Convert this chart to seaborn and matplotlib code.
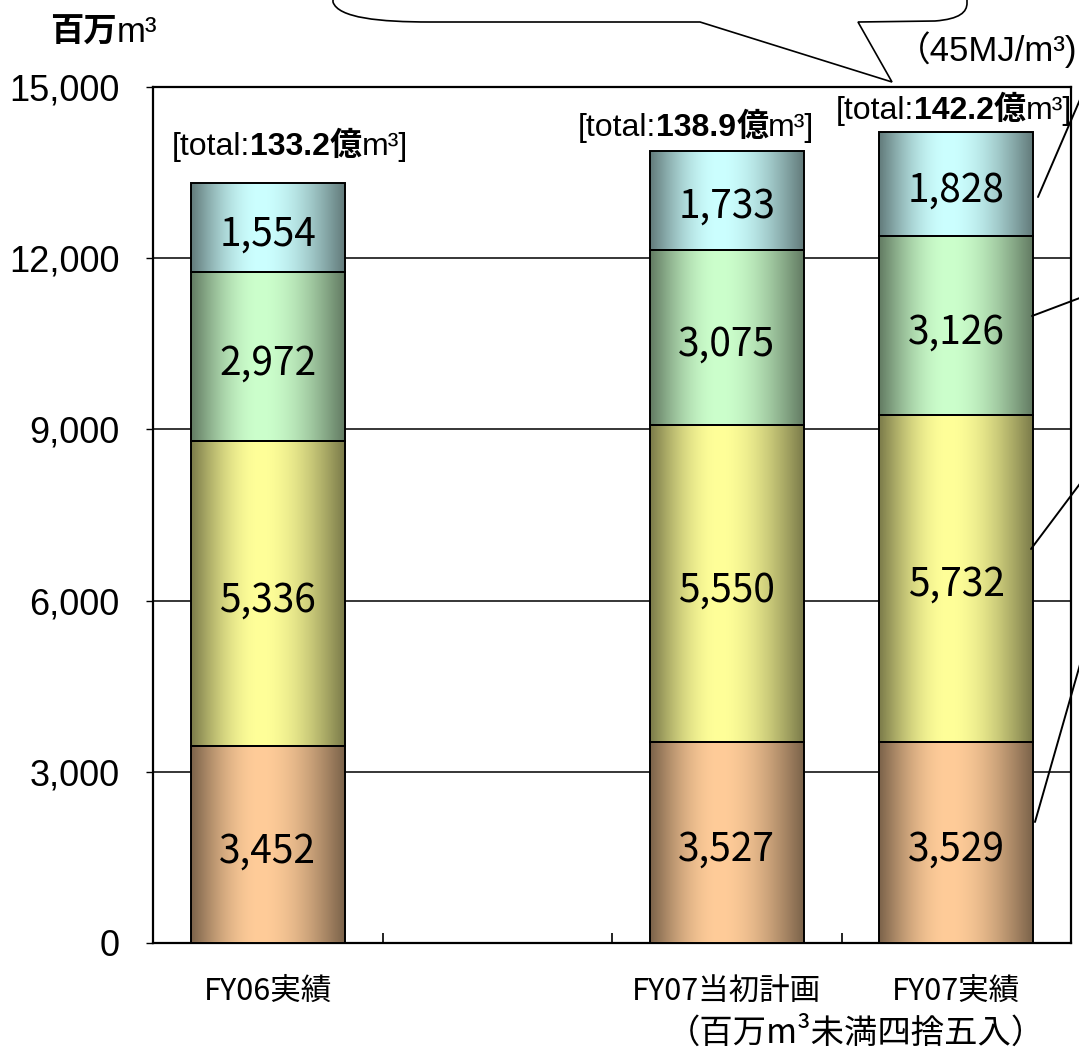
import numpy as np
import pandas as pd
import matplotlib
matplotlib.use("Agg")
import matplotlib.pyplot as plt
import seaborn as sns
from matplotlib.offsetbox import TextArea, HPacker, AnnotationBbox
from matplotlib.patches import PathPatch
from matplotlib.path import Path
from matplotlib.lines import Line2D

# ---------------- data ----------------
categories = ["FY06実績", "", "FY07当初計画", "FY07実績"]
bar_categories = ["FY06実績", "FY07当初計画", "FY07実績"]
layer1 = [3452, 3527, 3529]
layer2 = [5336, 5550, 5732]
layer3 = [2972, 3075, 3126]
layer4 = [1554, 1733, 1828]
totals_oku = ["133.2", "138.9", "142.2"]
layer_colors = ["#FFCC99", "#FFFF99", "#CCFFCC", "#CCFFFF"]
yticks = [0, 3000, 6000, 9000, 12000, 15000]
ytick_labels = ["0", "3,000", "6,000", "9,000", "12,000", "15,000"]

W, H = 1079, 1051
sns.set_theme(style="white")
plt.rcParams["font.family"] = ["Liberation Sans", "Noto Sans CJK JP", "DejaVu Sans"]
for key in ["text.color", "axes.labelcolor", "xtick.color", "ytick.color"]:
    plt.rcParams[key] = "black"
CJK = ["Noto Sans CJK JP", "Liberation Sans", "DejaVu Sans"]
LAT = ["Liberation Sans", "Noto Sans CJK JP", "DejaVu Sans"]

fig = plt.figure(figsize=(W / 100, H / 100), dpi=100)
fig.patch.set_facecolor("white")
ax = fig.add_axes([153 / W, 1 - 943 / H, (1071 - 153) / W, (943 - 87) / H])
ax.set_facecolor("white")


def fpx(x, y):
    return (x / W, 1 - y / H)


layers = [layer1, layer2, layer3, layer4]
bottom = np.zeros(len(bar_categories))
segments = []  # (patch, value, color)
for vals, col in zip(layers, layer_colors):
    df = pd.DataFrame({"cat": bar_categories, "val": vals})
    n_before = len(ax.patches)
    sns.barplot(data=df, x="cat", y="val", order=categories, color=col,
                saturation=1, width=0.67, bottom=bottom.copy(), ax=ax,
                edgecolor="black", linewidth=1.4, errorbar=None)
    new = ax.patches[n_before:]
    for p, v in zip(new, vals):
        segments.append((p, v, col))
    bottom = bottom + np.array(vals)


def gradient(col, n=256):
    rgb = np.array(matplotlib.colors.to_rgb(col))
    t = np.linspace(0, 1, n)
    peak = 0.45
    u = np.where(t < peak, t / peak, (1 - t) / (1 - peak))
    f = 0.48 + 0.52 * np.sin(u * np.pi / 2)
    img = rgb[None, None, :] * f[None, :, None]
    return np.clip(img, 0, 1)


for k, (p, v, col) in enumerate(segments):
    x0, y0 = p.get_x(), p.get_y()
    w, h = p.get_width(), p.get_height()
    im = ax.imshow(gradient(col), extent=[x0, x0 + w, y0, y0 + h],
                   aspect="auto", interpolation="bilinear", zorder=3)
    im.set_clip_path(p)
    p.set_facecolor("none")
    p.set_zorder(4)
    ax.annotate(f"{v:,}", (x0 + w / 2, y0 + h / 2), xytext=(0, -5),
                textcoords="offset points", ha="center", va="center",
                fontsize=28, family=CJK, color="black", zorder=6)

ax.set_xlim(-0.5, 3.5)
ax.set_ylim(0, 15000)
ax.set_yticks(yticks)
ax.set_yticklabels(ytick_labels, fontsize=26, family=LAT)
ax.grid(axis="y", color="black", linewidth=1.1, zorder=0)
ax.set_axisbelow(True)
ax.set_xlabel("")
ax.set_ylabel("")
ax.set_xticks(range(len(categories)))
ax.set_xticklabels(categories, fontsize=22, family=CJK)
ax.set_xticks([0.5, 1.5, 2.5], minor=True)
ax.tick_params(axis="x", which="major", bottom=True, length=0, pad=24)
ax.tick_params(axis="x", which="minor", bottom=True, direction="in",
               length=7, width=1.2, color="black")
ax.tick_params(axis="y", which="major", direction="out", length=5, width=1,
               color="black", pad=19, left=True)
for s in ax.spines.values():
    s.set_visible(True)
    s.set_color("black")
    s.set_linewidth(1.6)

# total labels
offsets = [(16, 27), (-22, 17), (-2, 16)]
tops = bottom
xcenters = [categories.index(c) for c in bar_categories]
for xc, top, tot, (dx, dy) in zip(xcenters, tops, totals_oku, offsets):
    parts = [
        TextArea("[total:", textprops=dict(fontsize=23, family=LAT)),
        TextArea(tot, textprops=dict(fontsize=23, family=LAT, fontweight="bold")),
        TextArea("億", textprops=dict(fontsize=23, family=CJK, fontweight="bold")),
        TextArea("m³]", textprops=dict(fontsize=23, family=LAT)),
    ]
    box = HPacker(children=parts, align="baseline", pad=0, sep=0)
    ab = AnnotationBbox(box, (xc, top), xycoords="data", xybox=(dx, dy),
                        boxcoords="offset points", box_alignment=(0.5, 0.5),
                        frameon=False, annotation_clip=False, zorder=7)
    ax.add_artist(ab)

# unit label top left
unit = HPacker(children=[
    TextArea("百万", textprops=dict(fontsize=24, family=CJK, fontweight="bold")),
    TextArea("m³", textprops=dict(fontsize=25, family=LAT)),
], align="baseline", pad=0, sep=0)
fig.add_artist(AnnotationBbox(unit, fpx(50, 32), xycoords="figure fraction",
                              box_alignment=(0, 0.5), frameon=False))

# bottom note
fig.text(*fpx(856, 1033), "（百万m³未満四捨五入）", ha="center", va="center",
         fontsize=24, family=CJK)

# (45MJ/m3) text at the top right
fig.text(*fpx(1077, 50), "（45MJ/m³)", ha="right", va="center", fontsize=25, family=LAT)

# speech bubble (partially visible)
verts = [fpx(333, -10), fpx(333, 2),
         fpx(338, 18), fpx(380, 22), fpx(430, 22),
         fpx(700, 22), fpx(892, 82), fpx(858, 22), fpx(935, 21),
         fpx(960, 19), fpx(967, 12), fpx(967, 3),
         fpx(967, -10), fpx(333, -10)]
codes = [Path.MOVETO, Path.LINETO,
         Path.CURVE4, Path.CURVE4, Path.CURVE4,
         Path.LINETO, Path.LINETO, Path.LINETO, Path.LINETO,
         Path.CURVE4, Path.CURVE4, Path.CURVE4,
         Path.LINETO, Path.CLOSEPOLY]
bubble = PathPatch(Path(verts, codes), transform=fig.transFigure,
                   facecolor="white", edgecolor="black", linewidth=1.2)
fig.add_artist(bubble)

# callout lines to the (off-canvas) legend
for (xa, ya), (xb, yb) in [((1038, 197), (1085, 88)),
                           ((1032, 316), (1085, 296)),
                           ((1031, 549), (1085, 477)),
                           ((1035, 822), (1085, 647))]:
    (fx0, fy0), (fx1, fy1) = fpx(xa, ya), fpx(xb, yb)
    fig.add_artist(Line2D([fx0, fx1], [fy0, fy1], transform=fig.transFigure,
                          color="black", linewidth=1.4))

fig.savefig("out.png", dpi=100, facecolor="white")
